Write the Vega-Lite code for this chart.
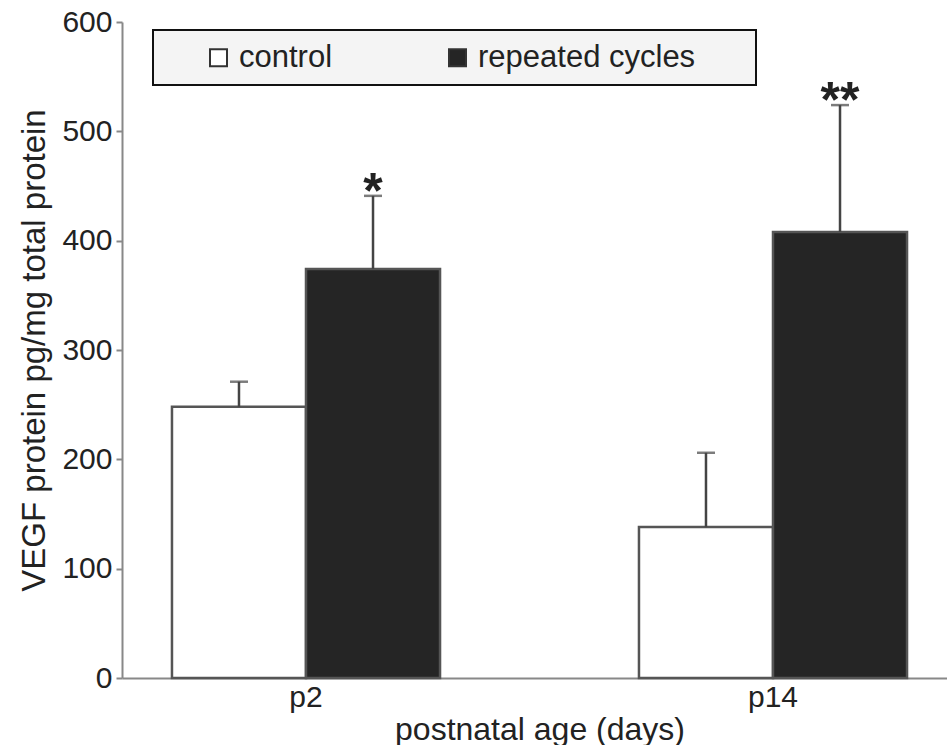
{
  "$schema": "https://vega.github.io/schema/vega-lite/v6.json",
  "width": 835,
  "height": 656,
  "padding": {"left": 18, "top": 7, "right": 0, "bottom": 0},
  "autosize": {"type": "pad"},
  "config": {
    "view": {"stroke": null},
    "font": "Liberation Sans",
    "legend": {"strokeWidth": 2},
    "axis": {"grid": false, "domainColor": "#888", "domainWidth": 2, "tickColor": "#888", "tickWidth": 2, "labelColor": "#222", "titleColor": "#222", "labelFontSize": 30, "titleFontSize": 32, "titleFontWeight": "normal"}
  },
  "data": {
    "values": [
      {"age": "p2", "group": "control", "value": 248, "upper": 271, "sig": ""},
      {"age": "p2", "group": "repeated cycles", "value": 374, "upper": 441, "sig": "*"},
      {"age": "p14", "group": "control", "value": 138, "upper": 206, "sig": ""},
      {"age": "p14", "group": "repeated cycles", "value": 408, "upper": 524, "sig": "**"}
    ]
  },
  "encoding": {
    "x": {
      "field": "age", "type": "nominal", "sort": ["p2", "p14"],
      "scale": {"paddingInner": 0.426, "paddingOuter": 0.107},
      "axis": {"title": "postnatal age (days)", "labelAngle": 0, "ticks": false, "labelPadding": 4, "titlePadding": 2}
    },
    "xOffset": {"field": "group", "type": "nominal", "sort": ["control", "repeated cycles"]}
  },
  "layer": [
    {
      "mark": {"type": "bar", "stroke": "#555", "strokeWidth": 2.5},
      "encoding": {
        "y": {"field": "value", "type": "quantitative", "scale": {"domain": [0, 600], "nice": false},
          "axis": {"title": "VEGF protein pg/mg total protein", "titleFontSize": 33, "values": [0, 100, 200, 300, 400, 500, 600], "tickSize": 6, "labelPadding": 4, "titlePadding": 10}},
        "color": {
          "field": "group", "type": "nominal",
          "scale": {"domain": ["control", "repeated cycles"], "range": ["#ffffff", "#252525"]},
          "legend": {
            "orient": "none", "legendX": 31, "legendY": 8, "direction": "horizontal",
            "title": "MM", "titleOrient": "right", "titleOpacity": 0, "titleFontSize": 20, "titlePadding": 15,
            "padding": 12, "fillColor": "#f4f4f4", "strokeColor": "#111",
            "symbolType": "square", "symbolSize": 289, "symbolStrokeColor": "#333", "symbolStrokeWidth": 2,
            "symbolOffset": 38, "labelFontSize": 31, "labelOffset": 5, "columnPadding": 71, "labelColor": "#222", "labelLimit": 500
          }
        }
      }
    },
    {
      "mark": {"type": "rule", "color": "#444", "strokeWidth": 2.5},
      "encoding": {
        "y": {"field": "value", "type": "quantitative", "title": "VEGF protein pg/mg total protein"},
        "y2": {"field": "upper"}
      }
    },
    {
      "mark": {"type": "tick", "color": "#444", "thickness": 2.5, "size": 18},
      "encoding": {
        "y": {"field": "upper", "type": "quantitative", "title": "VEGF protein pg/mg total protein"}
      }
    },
    {
      "mark": {"type": "text", "fontSize": 50, "fontWeight": "bold", "baseline": "alphabetic", "dy": 12, "color": "#222"},
      "encoding": {
        "y": {"field": "upper", "type": "quantitative", "title": "VEGF protein pg/mg total protein"},
        "text": {"field": "sig"}
      }
    }
  ]
}
